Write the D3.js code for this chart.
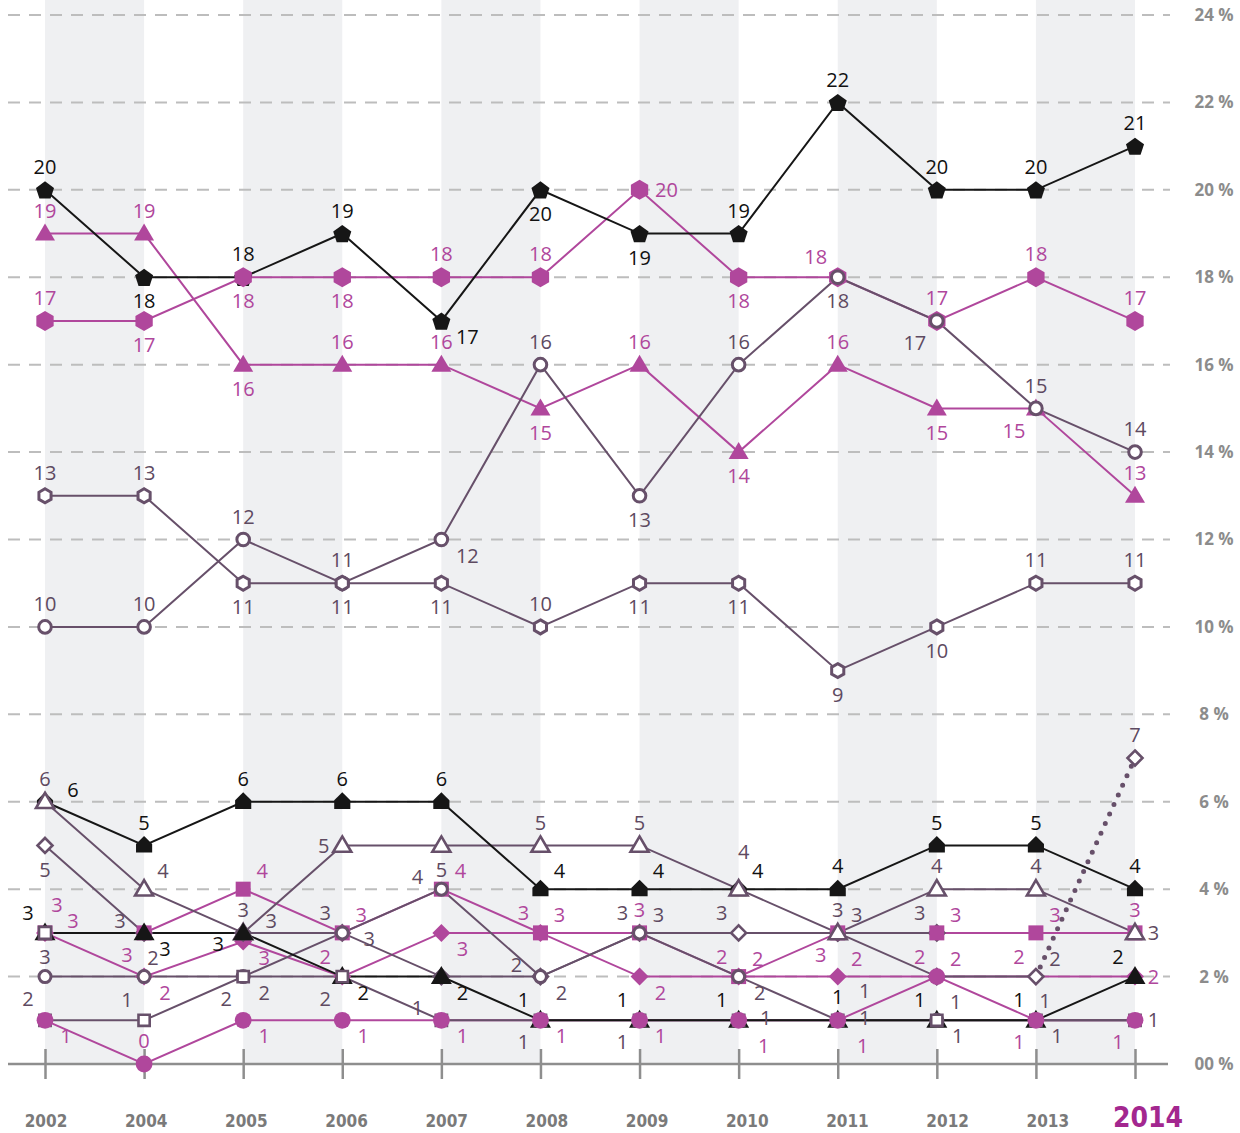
<!DOCTYPE html>
<html><head><meta charset="utf-8">
<script src="https://cdn.jsdelivr.net/npm/d3@7"></script>
<style>body{margin:0;background:#fff}svg{display:block}</style>
</head><body>
<svg id="chart" width="1240" height="1133"></svg>
<script>
// ---------- DATA ----------
const years = ["2002","2004","2005","2006","2007","2008","2009","2010","2011","2012","2013","2014"];
const yTicks = [0,2,4,6,8,10,12,14,16,18,20,22,24];

const blackPentagon      = [20,18,18,19,17,20,19,19,22,20,20,21];
const magentaHexagon     = [17,17,18,18,18,18,20,18,18,17,18,17];
const magentaTriangle    = [19,19,16,16,16,15,16,14,16,15,15,13];
const purpleCircleLarge  = [10,10,12,11,12,16,13,16,18,17,15,14];
const purpleHexagon      = [13,13,11,11,11,10,11,11,9,10,11,11];
const blackHouse         = [6,5,6,6,6,4,4,4,4,5,5,4];
const purpleTriangle     = [6,4,3,5,5,5,5,4,3,4,4,3];
const blackTriangle      = [3,3,3,2,2,1,1,1,1,1,1,2];
const magentaSquare      = [3,3,4,3,4,3,3,2,3,3,3,3];
const magentaCircle      = [1,0,1,1,1,1,1,1,1,2,1,1];
const magentaDiamond     = [3,2,2.8,2,3,3,2,2,2,2,2,2];
const purpleDiamond      = [5,3,3,3,2,2,3,3,3,3,null,null];
const purpleDiamond2     = [null,null,null,null,null,null,null,null,3,2,2,7];
const purpleCircleSmall  = [2,2,2,3,4,2,3,2,1,1,1,1];
const purpleSquare       = [1,1,2,2,1,1,1,1,1,1,1,1];
const purpleSquareSolo   = [3,null,null,null,null,null,null,null,null,null,null,null];

// ---------- LABEL PLACEMENT (style) ----------
const posBlackPentagon     = ["t","b","t","t","br","b","b","t","t","t","t","t"];
const posMagentaHexagon    = ["t","b","b","b","t","t","r","b","tl","t","t","t"];
const posMagentaTriangle   = ["t","t","b","t","t","b","t","b","t","b","bl","t"];
const posPurpleCircleLarge = ["t","t","t","t","br","t","b","t","b","bl","t","t"];
const posPurpleHexagon     = ["t","t","b","b","b","t","b","b","b","b","t","t"];
const posBlackHouse        = ["rr","t","t","t","t","tr","tr","tr","t","t","t","t"];
const posPurpleTriangle    = ["t","tr","rr","l","b","t","t","tu","tr","t","t","r"];
const posBlackTriangle     = ["tl","br","lb","br","br","tl","tl","tl","t","tl","tl","tl"];
const posMagentaSquare     = ["tt","bl","tr","tr","tr","tr","t","tl","bl","tr","tr","t"];
const posMagentaCircle     = ["br","t","br","br","br","br","br","bb","bb","tl","bl","bl"];
const posMagentaDiamond    = ["rr","br","br","tl","br","tl","br","tr","tr","tr","tl","r"];
const posPurpleDiamond     = ["b","lt","t","tl","","lt","tl","tl","t","tl","",""];
const posPurpleDiamond2    = ["","","","","","","","","","","tr","t"];
const posPurpleCircleSmall = ["bl","tc","br","rb","lt","br","tr","br","ru","tr","tc","r"];
const posPurpleSquare      = ["","tl","bl","bl","lt","bl","bl","rx","rx","br","br",""];
const posPurpleSquareSolo  = ["b","","","","","","","","","","",""];

// ---------- STYLE ----------
const BLACK = "#161616", MAG = "#b0479c", DP = "#67506a";
const LBL = {black:"#111111", mag:"#b0479c", dp:"#5e4a61"};

const series = [
  {v:blackPentagon,     p:posBlackPentagon,     c:"black", shape:"pentagon", r:9.5, filled:true},
  {v:magentaHexagon,    p:posMagentaHexagon,    c:"mag",   shape:"hexagon",  r:10,  filled:true},
  {v:magentaTriangle,   p:posMagentaTriangle,   c:"mag",   shape:"triangle", r:10,  filled:true},
  {v:purpleCircleLarge, p:posPurpleCircleLarge, c:"dp",    shape:"circle",   r:6.3, filled:false, sw:3},
  {v:purpleHexagon,     p:posPurpleHexagon,     c:"dp",    shape:"hexagon",  r:7,   filled:false, sw:3},
  {v:blackHouse,        p:posBlackHouse,        c:"black", shape:"house",    r:9.5, filled:true},
  {v:magentaDiamond,    p:posMagentaDiamond,    c:"mag",   shape:"diamond",  r:9,   filled:true},
  {v:purpleDiamond,     p:posPurpleDiamond,     c:"dp",    shape:"diamond",  r:7.5, filled:false, sw:2.6},
  {v:purpleDiamond2,    p:posPurpleDiamond2,    c:"dp",    shape:"diamond",  r:7.5, filled:false, sw:2.6, dottedLast:true},
  {v:magentaSquare,     p:posMagentaSquare,     c:"mag",   shape:"square",   r:7.5, filled:true},
  {v:purpleTriangle,    p:posPurpleTriangle,    c:"dp",    shape:"triangle", r:9,   filled:false, sw:2.6},
  {v:blackTriangle,     p:posBlackTriangle,     c:"black", shape:"triangle", r:10.5,filled:true},
  {v:purpleCircleSmall, p:posPurpleCircleSmall, c:"dp",    shape:"circle",   r:6,   filled:false, sw:3},
  {v:purpleSquare,      p:posPurpleSquare,      c:"dp",    shape:"square",   r:5.6, filled:false, sw:2.6},
  {v:magentaCircle,     p:posMagentaCircle,     c:"mag",   shape:"circle",   r:8.4, filled:true},
  {v:purpleSquareSolo,  p:posPurpleSquareSolo,  c:"dp",    shape:"square",   r:6,   filled:false, sw:2.6}
];
const lineColor = {black:BLACK, mag:MAG, dp:DP};

// ---------- SCALES ----------
const svg = d3.select("#chart");
const x = d3.scalePoint().domain(years).range([45,1135]);
const xLabel = d3.scalePoint().domain(years).range([46,1148]);
const y = d3.scaleLinear().domain([0,24]).range([1064,15]);

// bands
const bandPairs = d3.range(0, years.length, 2).map(i => [years[i], years[i+1]]);
svg.append("g").selectAll("rect").data(bandPairs).join("rect")
  .attr("x", d => x(d[0])).attr("width", d => x(d[1]) - x(d[0]))
  .attr("y", 0).attr("height", y(0))
  .attr("fill", "#eff0f2");

// grid
svg.append("g").selectAll("line").data(yTicks.filter(t => t > 0)).join("line")
  .attr("x1", 8).attr("x2", 1170)
  .attr("y1", d => y(d)).attr("y2", d => y(d))
  .attr("stroke", "#bdbdbd").attr("stroke-width", 2).attr("stroke-dasharray", "12 9");

// x ticks via axis
const xAxis = svg.append("g").attr("transform", `translate(0,${y(0) - 15})`)
  .call(d3.axisBottom(x).tickSize(30).tickFormat(""));
xAxis.select(".domain").remove();
xAxis.selectAll(".tick line").attr("stroke", "#8e8e8e").attr("stroke-width", 2.5);
svg.append("line").attr("x1", 8).attr("x2", 1168).attr("y1", y(0)).attr("y2", y(0))
  .attr("stroke", "#8e8e8e").attr("stroke-width", 2.5);

// year labels
svg.append("g").selectAll("text").data(years).join("text")
  .attr("x", d => xLabel(d))
  .attr("y", 1127)
  .attr("text-anchor", "middle")
  .attr("font-family", "'Liberation Sans Narrow','DejaVu Sans Condensed','Open Sans',sans-serif")
  .attr("font-weight", "bold")
  .attr("font-size", d => d === "2014" ? 28 : 17)
  .attr("fill", d => d === "2014" ? "#a3278f" : "#7a7a7a")
  .text(d => d);

// y labels
const yAxis = svg.append("g").attr("transform", "translate(1214,0)")
  .call(d3.axisRight(y).tickValues(yTicks).tickSize(0)
    .tickFormat(d => (d === 0 ? "00" : d) + " %"));
yAxis.select(".domain").remove();
yAxis.selectAll("text").attr("x", 0).attr("text-anchor", "middle")
  .attr("font-family", "'Open Sans',sans-serif").attr("font-weight", "bold")
  .attr("font-size", 17).attr("fill", "#8c8c8c");

// ---------- LINES ----------
const lineGen = d3.line().defined(d => d.v != null).x(d => x(d.year)).y(d => y(d.v));
const pts = s => s.v.map((v, i) => ({year: years[i], v, i}));
const lineOrder = ["mag","dp","black"];
const gLines = svg.append("g");
lineOrder.forEach(col => {
  series.filter(s => s.c === col).forEach(s => {
    let p = pts(s);
    let solid = p, dotted = null;
    if (s.dottedLast) {
      solid = p.slice(0, p.length - 1);
      dotted = p.slice(p.length - 2);
    }
    gLines.append("path").datum(solid).attr("d", lineGen)
      .attr("fill", "none").attr("stroke", lineColor[col]).attr("stroke-width", 2);
    if (dotted) {
      gLines.append("path").datum(dotted).attr("d", lineGen)
        .attr("fill", "none").attr("stroke", DP).attr("stroke-width", 5)
        .attr("stroke-linecap", "round").attr("stroke-dasharray", "0 10.5");
    }
  });
});

// ---------- MARKERS ----------
function poly(p){ return "M" + p.map(q => q[0].toFixed(2) + "," + q[1].toFixed(2)).join("L") + "Z"; }
function shapePath(shape, r){
  switch(shape){
    case "pentagon": return poly(d3.range(5).map(k => {const a = -Math.PI/2 + k*2*Math.PI/5; return [r*Math.cos(a), r*Math.sin(a)+1];}));
    case "hexagon":  return poly(d3.range(6).map(k => {const a = -Math.PI/2 + k*Math.PI/3; return [r*Math.cos(a), r*Math.sin(a)];}));
    case "house":    return poly([[-r*0.85, r*0.75],[r*0.85, r*0.75],[r*0.85,-r*0.15],[0,-r],[-r*0.85,-r*0.15]]);
    case "triangle": return poly([[0,-r],[r, r*0.7],[-r, r*0.7]]);
    case "diamond":  return poly([[0,-r],[r,0],[0,r],[-r,0]]);
    case "square":   return poly([[-r,-r],[r,-r],[r,r],[-r,r]]);
    case "circle":   return `M${r},0A${r},${r} 0 1,1 ${-r},0A${r},${r} 0 1,1 ${r},0Z`;
  }
}
const gMarks = svg.append("g");
series.forEach(s => {
  gMarks.append("g").selectAll("path").data(pts(s).filter(d => d.v != null)).join("path")
    .attr("transform", d => `translate(${x(d.year)},${y(d.v)})`)
    .attr("d", shapePath(s.shape, s.r))
    .attr("fill", s.filled ? lineColor[s.c] : "#fff")
    .attr("stroke", s.filled ? "none" : DP)
    .attr("stroke-width", s.filled ? 0 : s.sw);
});

// ---------- VALUE LABELS ----------
const OFF = {t:[0,-23], b:[0,24], tl:[-17,-20], tr:[19,-18], bl:[-17,22], br:[21,16], bb:[25,26],
  l:[-1,0], r:[1,0], rx:[27,-2], ru:[27,-29], lt:[-24,-12], tt:[12,-28], rr:[28,-12], lb:[-25,11], rb:[27,6],
  tc:[9,-19], tu:[5,-37]};
const gLbl = svg.append("g").attr("font-family", "'Open Sans',sans-serif").attr("font-size", 20);
series.forEach(s => {
  pts(s).forEach(d => {
    const code = s.p[d.i];
    if (d.v == null || !code) return;
    const txt = String(Math.round(d.v));
    const digits = txt.length;
    let [dx, dy] = OFF[code];
    if (code === "r") dx = 10 + 8.5*digits;
    else if (code === "l") dx = -(10 + 8.5*digits);
    else if (dx !== 0 && Math.abs(dx) > 10) dx += Math.sign(dx) * (digits - 1) * 5;
    gLbl.append("text")
      .attr("x", x(d.year) + dx).attr("y", y(d.v) + dy)
      .attr("dy", "0.36em").attr("text-anchor", "middle")
      .attr("fill", LBL[s.c]).text(txt);
  });
});
</script>
</body></html>
